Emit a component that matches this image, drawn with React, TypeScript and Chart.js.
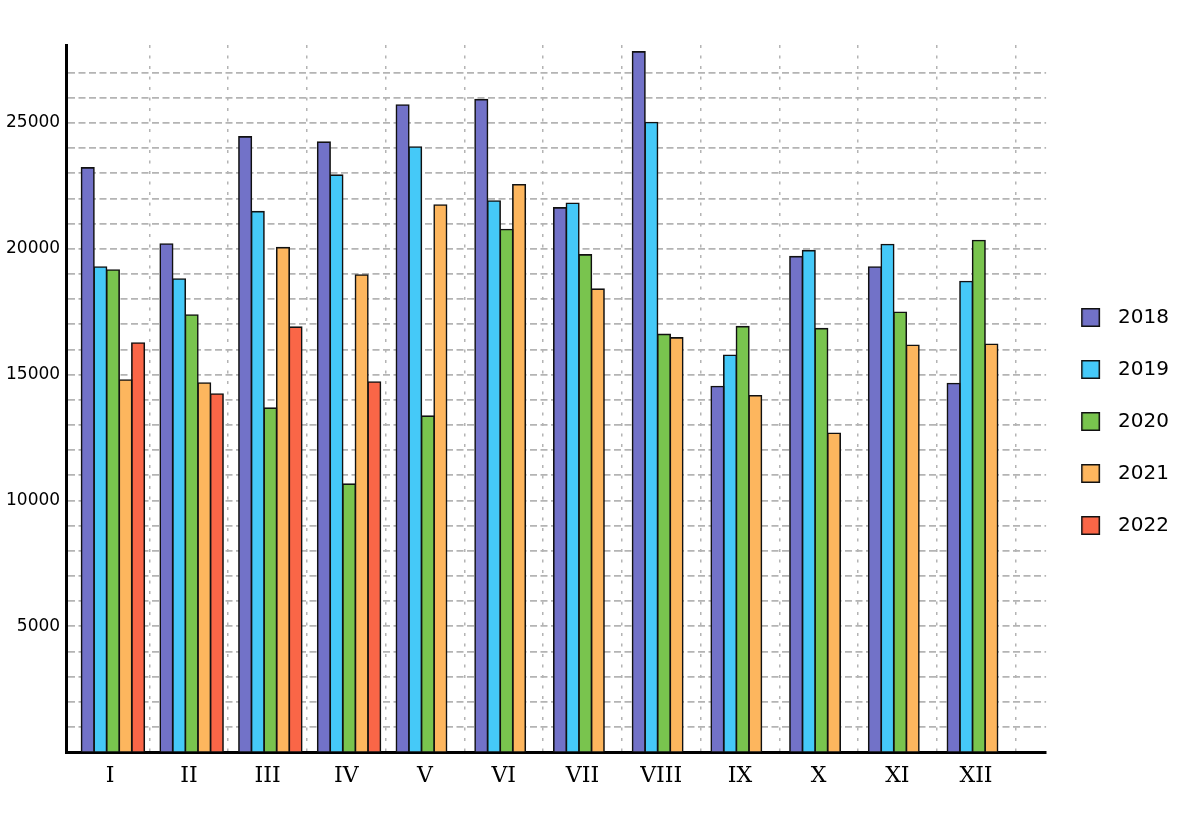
import { useEffect, useRef } from "react"
import { Chart, registerables } from "chart.js"

Chart.register(...registerables)

const months = ["I", "II", "III", "IV", "V", "VI", "VII", "VIII", "IX", "X", "XI", "XII"]
const years = ["2018", "2019", "2020", "2021", "2022"]
const colors = ["#7272C8", "#45C9F8", "#79C44E", "#FDB65E", "#FA6647"]

const sales2018 = [23220, 20190, 24450, 24240, 25720, 25930, 21630, 27830, 14530, 19690, 19280, 14650]
const sales2019 = [19280, 18800, 21480, 22930, 24050, 21900, 21810, 25020, 15770, 19930, 20170, 18700]
const sales2020 = [19160, 17370, 13670, 10650, 13350, 20770, 19760, 16600, 16910, 16830, 17480, 20330]
const sales2021 = [14790, 14670, 20050, 18960, 21740, 22550, 18400, 16460, 14160, 12670, 16170, 16210]
const sales2022 = [16260, 14230, 16890, 14710, null, null, null, null, null, null, null, null]

const yTickLabels = [5000, 10000, 15000, 20000, 25000]
const yGridStep = 1000
const yGridTop = 27000
const yMax = 28100

// bars sit a little right of the month label in the original
const groupShift = 0.035

// legend swatch: a bordered square drawn a few px in from the left of a wider slot
function makeSwatch(fill: string) {
  const c = document.createElement("canvas")
  c.width = 30
  c.height = 19
  const g = c.getContext("2d")
  if (g) {
    g.fillStyle = "#111"
    g.fillRect(3, 0, 19, 19)
    g.fillStyle = fill
    g.fillRect(4.5, 1.5, 16, 16)
  }
  return c
}

export default function App() {
  const chartRef = useRef<HTMLCanvasElement>(null)
  const chartInstance = useRef<Chart | null>(null)

  useEffect(() => {
    if (!chartRef.current) return
    if (chartInstance.current) chartInstance.current.destroy()
    const ctx = chartRef.current.getContext("2d")
    if (!ctx) return

    const series = [sales2018, sales2019, sales2020, sales2021, sales2022]
    const swatches = colors.map(makeSwatch)

    chartInstance.current = new Chart(ctx, {
      type: "bar",
      data: {
        datasets: series.map((values, s) => ({
          label: years[s],
          data: values.map((v, i) => ({ x: i + 1 + groupShift, y: v })),
          backgroundColor: colors[s],
          borderColor: "#111",
          borderWidth: 1.6,
          borderSkipped: false,
          inflateAmount: 0.75,
          categoryPercentage: 0.8,
          barPercentage: 1,
        })) as any,
      },
      options: {
        animation: false,
        responsive: true,
        maintainAspectRatio: false,
        layout: { padding: { top: 45, right: 5, bottom: 20, left: 0 } },
        scales: {
          x: {
            type: "linear",
            offset: false,
            min: 0.44,
            max: 12.89,
            afterBuildTicks: (scale: any) => {
              scale.ticks = months.map((_, i) => ({ value: i + 1 }))
            },
            afterFit: (scale: any) => {
              scale.height = 46
            },
            ticks: {
              autoSkip: false,
              maxRotation: 0,
              padding: 11,
              color: "#000",
              font: { family: "DejaVu Serif", size: 22 },
              callback: (_v: any, i: number) => months[i],
            },
            grid: {
              offset: true,
              drawTicks: false,
              lineWidth: 1.5,
              color: (c: any) => (c.index === 0 ? "rgba(0,0,0,0)" : "#b4b4b4"),
            },
            border: { color: "#000", width: 3, dash: [3, 7.5] },
          },
          y: {
            min: 0,
            max: yMax,
            afterBuildTicks: (scale: any) => {
              const t = []
              for (let v = yGridStep; v <= yGridTop; v += yGridStep) t.push({ value: v })
              scale.ticks = t
            },
            ticks: {
              padding: 6,
              color: "#000",
              font: { family: "DejaVu Sans", size: 17 },
              callback: (v: any) => (yTickLabels.includes(v) ? String(v) : ""),
            },
            grid: { drawTicks: false, lineWidth: 1.7, color: "#b4b4b4" },
            border: { color: "#000", width: 3, dash: [7, 3.5] },
          },
        },
        plugins: {
          legend: {
            position: "right",
            labels: {
              usePointStyle: true,
              pointStyleWidth: 30,
              boxHeight: 19,
              padding: 32,
              color: "#000",
              font: { family: "DejaVu Sans", size: 20 },
              generateLabels: (chart: Chart) =>
                Chart.defaults.plugins.legend.labels
                  .generateLabels(chart)
                  .map((item, i) => ({ ...item, pointStyle: swatches[i] })),
            },
          },
          tooltip: { enabled: false },
        },
      },
    })

    return () => {
      if (chartInstance.current) {
        chartInstance.current.destroy()
        chartInstance.current = null
      }
    }
  }, [])

  return (
    <div style={{ position: "absolute", left: 0, top: 0, width: 1184, height: 818, background: "#fff" }}>
      <canvas ref={chartRef} />
    </div>
  )
}
